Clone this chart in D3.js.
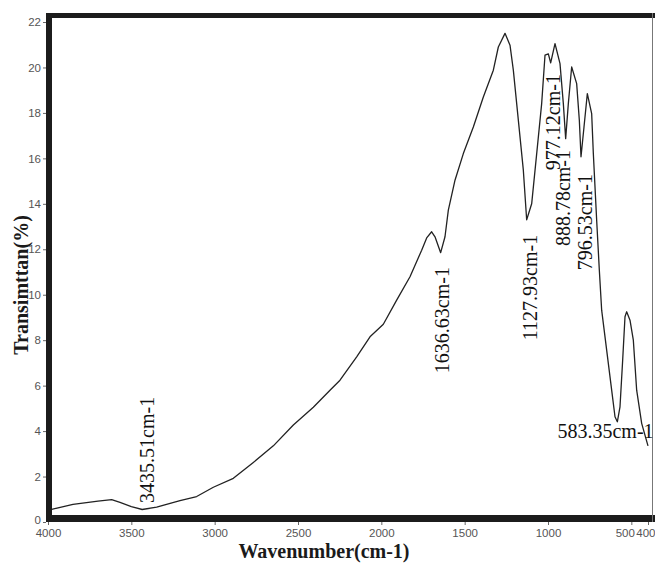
<!DOCTYPE html>
<html>
<head>
<meta charset="utf-8">
<script src="https://cdn.jsdelivr.net/npm/d3@7"></script>
<style>
  body { margin: 0; background: #fff; }
  svg { display: block; }
  .tick text { fill: #555; font-family: "Liberation Sans", Arial, sans-serif; font-size: 11.5px; }
  .tick line { stroke: #666; }
</style>
</head>
<body>
<div id="chart"></div>
<script>
// Spectrum (wavenumber cm-1, transmittance %)
const wavenumbers = [4000, 3978, 3850, 3700, 3618, 3568, 3500, 3435, 3348, 3208, 3108, 3008, 2888, 2768, 2648, 2528, 2408, 2308, 2248, 2148, 2068, 1988, 1908, 1828, 1758, 1728, 1698, 1678, 1644, 1618, 1598, 1558, 1508, 1448, 1388, 1328, 1298, 1258, 1228, 1208, 1178, 1148, 1128, 1098, 1068, 1038, 1018, 998, 984, 958, 928, 908, 894, 878, 858, 828, 812, 802, 784, 764, 738, 728, 708, 692, 678, 648, 618, 598, 584, 568, 552, 538, 528, 508, 488, 468, 438, 400]
const transmittance = [0.55, 0.56, 0.78, 0.92, 0.98, 0.86, 0.68, 0.55, 0.65, 0.94, 1.12, 1.53, 1.92, 2.62, 3.35, 4.27, 5.05, 5.8, 6.24, 7.27, 8.15, 8.7, 9.76, 10.79, 11.96, 12.5, 12.77, 12.55, 11.85, 12.55, 13.72, 15.04, 16.21, 17.38, 18.7, 19.88, 20.9, 21.5, 20.98, 19.88, 17.68, 15.48, 13.3, 14.0, 16.2, 18.41, 20.54, 20.6, 20.2, 21.05, 20.17, 18.41, 16.87, 18.41, 20.02, 19.29, 17.68, 16.07, 17.38, 18.85, 17.97, 16.21, 13.28, 11.08, 9.32, 7.56, 5.8, 4.63, 4.41, 5.07, 7.12, 9.03, 9.25, 8.88, 8.0, 5.8, 4.34, 3.35]

// Peak annotations: where the label sits (wavenumber) and the level its text starts at
const peakNames = ["3435.51cm-1", "1636.63cm-1", "1127.93cm-1", "977.12cm-1", "888.78cm-1", "796.53cm-1"]
const peakAt = [3435, 1636, 1127, 977, 888, 796]
const peakLevel = [0.84, 6.55, 8.0, 15.48, 12.14, 11.08]
const lastPeak = { name: "583.35cm-1", at: 583, level: 3.7 }

const xTicks = [4000, 3500, 3000, 2500, 2000, 1500, 1000, 500, 400]
const yTicks = [0, 2, 4, 6, 8, 10, 12, 14, 16, 18, 20, 22]

const W = 655, H = 563

const svg = d3.select("#chart").append("svg")
    .attr("width", W)
    .attr("height", H)

const x = d3.scaleLinear().domain([4000, 400]).range([48, 648])
const y = d3.scaleLinear().domain([0, 22]).range([522, 22])

const points = wavenumbers.map((w, i) => ({ w: w, t: transmittance[i] }))

// spectrum line
const line = d3.line()
    .x(d => x(d.w))
    .y(d => y(d.t))

svg.append("path")
    .datum(points)
    .attr("fill", "none")
    .attr("stroke", "#222")
    .attr("stroke-width", 1.3)
    .attr("stroke-linejoin", "round")
    .attr("d", line)

// axes (ticks + labels only, frame drawn separately)
const yAxis = svg.append("g")
    .attr("transform", "translate(46,0)")
    .call(d3.axisLeft(y).tickValues(yTicks).tickSize(3).tickPadding(2))
yAxis.select(".domain").remove()
yAxis.selectAll(".tick text").filter(d => d === 0).attr("dy", "0.1em")

const xAxis = svg.append("g")
    .attr("transform", "translate(0,522)")
    .call(d3.axisBottom(x).tickValues(xTicks).tickFormat(d3.format("d")).tickSize(3).tickPadding(4))
xAxis.select(".domain").remove()
// 500 and 400 run together at the right edge
xAxis.selectAll(".tick text").filter(d => d === 500).attr("text-anchor", "end").attr("dx", 3)
xAxis.selectAll(".tick text").filter(d => d === 400).attr("text-anchor", "end").attr("dx", 7)

// thick frame
const frame = svg.append("g").attr("fill", "#1c1c1c")
frame.append("rect").attr("x", 46).attr("y", 13).attr("width", W - 46).attr("height", 5)
frame.append("rect").attr("x", 46).attr("y", 13).attr("width", 6).attr("height", 509)
frame.append("rect").attr("x", 46).attr("y", 515).attr("width", W - 46).attr("height", 7)
svg.append("line")
    .attr("x1", 652.5).attr("x2", 652.5)
    .attr("y1", 13).attr("y2", 522)
    .attr("stroke", "#777")
    .attr("stroke-width", 1)

// peak labels
const labelOffset = [5, 0, 3, 1, -4, 3]
svg.selectAll(".peak")
    .data(peakNames)
    .join("text")
    .attr("class", "peak")
    .attr("transform", (d, i) => `translate(${x(peakAt[i]) + labelOffset[i]},${y(peakLevel[i])}) rotate(-90)`)
    .attr("dy", "0.35em")
    .attr("font-family", "'Liberation Serif', 'Times New Roman', serif")
    .attr("font-size", 20)
    .attr("fill", "#111")
    .text(d => d)

svg.append("text")
    .attr("x", x(lastPeak.at) - 12)
    .attr("y", y(lastPeak.level))
    .attr("text-anchor", "middle")
    .attr("font-family", "'Liberation Serif', 'Times New Roman', serif")
    .attr("font-size", 20)
    .attr("fill", "#111")
    .text(lastPeak.name)

// axis titles
svg.append("text")
    .attr("transform", "translate(28,285) rotate(-90)")
    .attr("text-anchor", "middle")
    .attr("font-family", "'Liberation Serif', 'Times New Roman', serif")
    .attr("font-weight", "bold")
    .attr("font-size", 20)
    .attr("fill", "#1a1a1a")
    .text("Transimttan(%)")

svg.append("text")
    .attr("x", 324)
    .attr("y", 558)
    .attr("text-anchor", "middle")
    .attr("font-family", "'Liberation Serif', 'Times New Roman', serif")
    .attr("font-weight", "bold")
    .attr("font-size", 20)
    .attr("fill", "#1a1a1a")
    .text("Wavenumber(cm-1)")
</script>
</body>
</html>
